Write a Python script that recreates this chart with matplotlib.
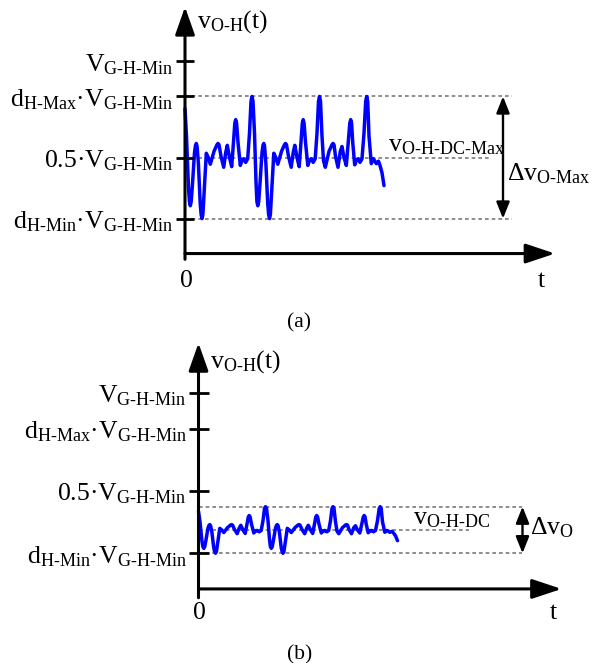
import matplotlib.pyplot as plt

plt.rcParams['font.family'] = ['Liberation Serif', 'DejaVu Serif']
plt.rcParams['mathtext.fontset'] = 'custom'
plt.rcParams['mathtext.rm'] = 'Liberation Serif'
plt.rcParams['mathtext.it'] = 'Liberation Serif'
plt.rcParams['mathtext.bf'] = 'Liberation Serif:bold'

# ripple shape: time (a.u.) and normalised ripple, -1 = deepest dip, +1 = highest peak
ripple_t = [0, 1.5, 3.5, 4.4, 5.3, 6.2, 7.4, 9.5, 10.5, 11.3, 12.1, 13.4, 15.2, 16.1, 17, 17.9,
            19.2, 21.3, 23.3, 25.3, 29, 32, 33, 34, 36, 38.7, 40.7, 42.3, 44.5, 46.7, 48.7,
            49.8, 50.7, 51.6, 53, 55.3, 57.2, 58.7, 60.7, 62.7, 64.5, 66, 67, 68,
            69.5, 71, 71.9, 72.8, 73.7, 74.9, 77, 78, 78.8, 79.6, 80.9, 82.7, 83.6, 84.5, 85.4,
            86.7, 88.8, 90.8, 92.8, 96.5, 99.5, 100.5, 101.5, 103.5, 106.2, 108.2, 109.8, 112,
            114.2, 116.2, 117.3, 118.2, 119.1, 120.5, 122.8, 124.7, 126.2, 128.2, 130.2, 132,
            133.5, 134.5, 135.5,
            137, 138.5, 140.3, 144, 147, 148, 149, 150.5, 153, 155.3, 157, 159, 161.3, 163.5,
            164.8, 165.7, 166.6, 167.7, 169.7, 171.5, 173, 175, 177, 179, 180.7, 181.7, 182.7,
            184, 186.3, 188.5, 191.3, 193.5, 195, 197, 199]
ripple_r = [0.80, 0.35, -0.5, -0.72, -0.79, -0.72, -0.45, 0.08, 0.2, 0.23, 0.18, -0.1, -0.75,
            -0.93, -1.0, -0.93, -0.55, 0.07, 0.0, -0.11, 0.1, 0.21, 0.23, 0.21, 0.02, -0.16,
            0.08, 0.2, 0.0, -0.15, 0.3, 0.56, 0.62, 0.56, 0.25, -0.13, -0.04, -0.02, -0.08,
            -0.02, 0.4, 0.92, 1.0, 0.92,
            0.4, -0.4, -0.72, -0.79, -0.72, -0.45, 0.08, 0.2, 0.23, 0.18, -0.1, -0.75, -0.93,
            -1.0, -0.93, -0.55, 0.07, 0.0, -0.11, 0.1, 0.21, 0.23, 0.21, 0.02, -0.16, 0.08,
            0.2, 0.0, -0.15, 0.3, 0.56, 0.62, 0.56, 0.25, -0.13, -0.04, -0.02, -0.08, -0.02,
            0.4, 0.92, 1.0, 0.92,
            0.35, -0.05, -0.16, 0.1, 0.21, 0.23, 0.21, 0.02, -0.16, 0.1, 0.18, 0.0, -0.13, 0.3,
            0.56, 0.62, 0.56, 0.25, -0.12, -0.04, -0.02, -0.08, -0.02, 0.4, 0.92, 1.0, 0.92,
            0.35, -0.1, -0.02, -0.1, -0.06, -0.13, -0.25, -0.46]

# voltage levels, per unit of V_G-H-Min
d_h_max = 0.818
d_h_min = 0.182
level_values = [1.0, d_h_max, 0.5, d_h_min]
level_labels = [
    r'$\text{V}_{\text{G-H-Min}}$',
    r'$\text{d}_{\text{H-Max}}\text{·V}_{\text{G-H-Min}}$',
    r'$\text{0.5·V}_{\text{G-H-Min}}$',
    r'$\text{d}_{\text{H-Min}}\text{·V}_{\text{G-H-Min}}$',
]

# dc level and ripple top of each case
dc_a, top_a = 0.5, d_h_max
dc_b, top_b = 0.301, 0.42

FS = 18.5
BLUE = '#0000ff'
GREY = '#7a7a7a'
DASH = (0, (2.2, 1.8))


def draw_panel(ax, dc, top, dc_label, delta_label, lay):
    ax.set_xlim(*lay['xlim'])
    ax.set_ylim(*lay['ylim'])
    ax.axis('off')

    bottom = 2 * dc - top
    v = [dc + (top - dc) * r for r in ripple_r]

    # dashed guides
    ax.plot([0, lay['dash_end']], [top, top], color=GREY, lw=1.2, ls=DASH, zorder=1)
    ax.plot([0, lay['dash_end']], [bottom, bottom], color=GREY, lw=1.2, ls=DASH, zorder=1)
    ax.plot([0, lay['mid_end']], [dc, dc], color=GREY, lw=1.2, ls=DASH, zorder=1)

    ax.plot(ripple_t, v, color=BLUE, lw=2.5, solid_joinstyle='round',
            solid_capstyle='round', zorder=2)

    # axes with arrows
    ax.annotate('', xy=(0, lay['y_tip']), xytext=(0, lay['y_foot']),
                arrowprops=dict(arrowstyle='-|>,head_length=0.85,head_width=0.3',
                                mutation_scale=20, lw=2.2, color='black',
                                shrinkA=0, shrinkB=0), zorder=3)
    ax.annotate('', xy=(lay['x_tip'], 0), xytext=(0, 0),
                arrowprops=dict(arrowstyle='-|>,head_length=0.9,head_width=0.3',
                                mutation_scale=20, lw=2.2, color='black',
                                shrinkA=0, shrinkB=0), zorder=3)

    # level ticks and labels
    for val, lab in zip(level_values, level_labels):
        ax.plot([-lay['tick'], lay['tick']], [val, val], color='black', lw=2.0, zorder=3,
                solid_capstyle='butt')
        ax.annotate(lab, xy=(0, val), xytext=(-8.5, -7), textcoords='offset points',
                    ha='right', va='baseline', fontsize=FS)

    ax.text(lay['title_t'], lay['title_v'], r'$\text{v}_{\text{O-H}}\text{(t)}$',
            ha='left', va='baseline', fontsize=FS)
    ax.text(1, lay['zero_v'], '0', ha='center', va='baseline', fontsize=FS)
    ax.text(lay['t_t'], lay['zero_v'], 't', ha='center', va='baseline', fontsize=FS)

    ax.text(lay['dc_t'], lay['dc_v'], dc_label, ha='left', va='baseline', fontsize=FS)

    # ripple span
    ax.annotate('', xy=(lay['arrow_t'], top), xytext=(lay['arrow_t'], bottom),
                arrowprops=dict(arrowstyle='<|-|>,head_length=1.0,head_width=0.4',
                                mutation_scale=10, lw=1.7, color='black',
                                shrinkA=0, shrinkB=0))
    ax.text(lay['delta_t'], lay['delta_v'], delta_label, ha='left', va='baseline', fontsize=FS)


fig = plt.figure(figsize=(6.03, 6.63), dpi=100)

ax_a = fig.add_axes([0, 1 - 330 / 663, 1, 330 / 663])
draw_panel(ax_a, dc_a, top_a,
           r'$\text{v}_{\text{O-H-DC-Max}}$', r'$\Delta\text{v}_{\text{O-Max}}$',
           dict(xlim=(-185, 418), ylim=(-0.398, 1.320), y_tip=1.284, y_foot=-0.03,
                x_tip=370, tick=9, dash_end=327, mid_end=305, title_t=12, title_v=1.175,
                zero_v=-0.174, t_t=356, dc_t=203, dc_v=0.530, arrow_t=318,
                delta_t=322, delta_v=0.383))

ax_b = fig.add_axes([0, 0, 1, 328 / 663])
draw_panel(ax_b, dc_b, top_b,
           r'$\text{v}_{\text{O-H-DC}}$', r'$\Delta\text{v}_{\text{O}}$',
           dict(xlim=(-198.5, 404.5), ylim=(-0.378, 1.296), y_tip=1.255, y_foot=-0.045,
                x_tip=363, tick=10, dash_end=323.5, mid_end=270, title_t=11.5, title_v=1.13,
                zero_v=-0.153, t_t=354.5, dc_t=214.5, dc_v=0.327, arrow_t=324,
                delta_t=331.5, delta_v=0.276))

fig.text(299 / 603, 1 - 327 / 663, '(a)', ha='center', va='baseline', fontsize=15.5)
fig.text(300 / 603, 1 - 659 / 663, '(b)', ha='center', va='baseline', fontsize=15.5)

fig.savefig('out.png', dpi=100)
